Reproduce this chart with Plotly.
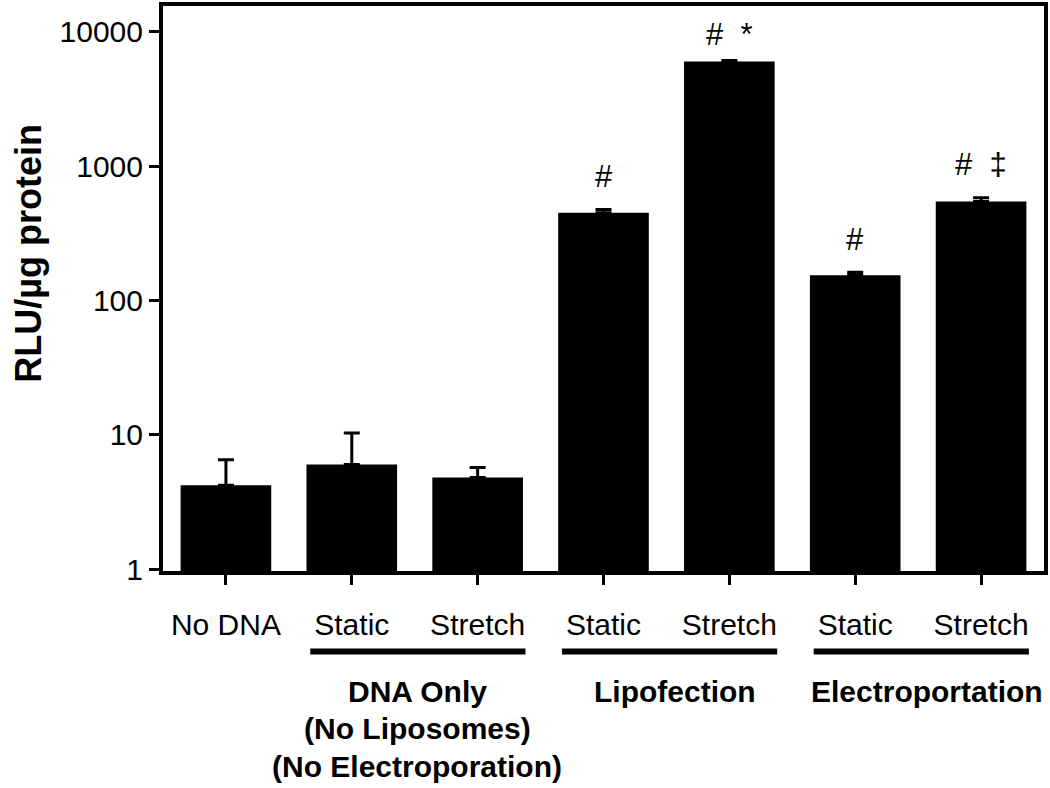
import plotly.graph_objects as go
import math

# ---- data ----
bar_labels = ["No DNA", "Static", "Stretch", "Static", "Stretch", "Static", "Stretch"]
means = [4.2, 6.0, 4.8, 450, 6000, 154, 545]
errors = [2.3, 4.3, 0.9, 25, 110, 8, 37]
sig_marks = ["", "", "", "#", "#\u00a0\u00a0*", "#", "#\u00a0\u00a0\u2021"]
groups = ["DNA Only", "Lipofection", "Electroportation"]
group_members = [(1, 2), (3, 4), (5, 6)]
group_sublines = [["(No Liposomes)", "(No Electroporation)"], [], []]
y_tickvals = [1, 10, 100, 1000, 10000]
y_ticktext = ["1", "10", "100", "1000", "10000"]
y_title = "RLU/µg protein"

FONT = "Arial, Liberation Sans, sans-serif"
x = list(range(len(bar_labels)))

fig = go.Figure()
fig.add_trace(go.Bar(
    x=x, y=means, width=0.72,
    marker=dict(color="black", line=dict(width=0)),
    error_y=dict(type="data", symmetric=False, array=errors,
                 arrayminus=[0] * len(errors), color="black",
                 thickness=3, width=8),
    showlegend=False, hoverinfo="skip",
))

# significance marks
for i, m in enumerate(sig_marks):
    if not m:
        continue
    top = means[i] + errors[i]
    fig.add_annotation(x=i, y=math.log10(top), xref="x", yref="y",
                       text=m, showarrow=False, yanchor="middle",
                       yshift=26 if i == 4 else 33,
                       font=dict(family=FONT, size=31, color="black"))

# geometry helpers (plot area in pixels)
plot_left, plot_right = 163, 1047
plot_top, plot_bot = 2, 571
ph = plot_bot - plot_top
pw = plot_right - plot_left
def py(pix):
    return (plot_bot - pix) / ph
def px(pix):
    return (pix - plot_left) / pw

label_offsets = [0.02, 0.07, 0.07]
for g, (a, b), subs, off in zip(groups, group_members, group_sublines, label_offsets):
    fig.add_shape(type="line", xref="x", yref="paper",
                  x0=a - 0.33, x1=b + 0.38, y0=py(652), y1=py(652),
                  line=dict(color="black", width=6))
    lines = [g] + subs
    for k, t in enumerate(lines):
        fig.add_annotation(x=(a + b) / 2 + off, y=py(692 + 38 * k),
                           xref="x", yref="paper", text="<b>%s</b>" % t,
                           showarrow=False, yanchor="middle",
                           font=dict(family=FONT, size=30, color="black"))

# y-axis title
fig.add_annotation(x=px(28), y=py(251), xref="paper", yref="paper",
                   text="<b>%s</b>" % y_title, textangle=-90, showarrow=False,
                   xanchor="center", yanchor="middle",
                   font=dict(family=FONT, size=36, color="black"))

fig.update_layout(
    width=1050, height=788,
    margin=dict(l=163, r=3, t=2, b=217),
    plot_bgcolor="white", paper_bgcolor="white",
    font=dict(family=FONT, color="black"),
    bargap=0.28,
)
fig.update_xaxes(
    range=[-0.5, 6.5], tickmode="array", tickvals=x, ticktext=bar_labels,
    tickfont=dict(size=30, family=FONT, color="black"),
    ticks="outside", ticklen=10, tickwidth=3, tickcolor="black",
    showline=True, linewidth=4, linecolor="black", mirror=True,
    showgrid=False, zeroline=False, ticklabelstandoff=14,
)
fig.update_yaxes(
    type="log", range=[-0.0148, 4.192],
    tickmode="array", tickvals=y_tickvals, ticktext=y_ticktext,
    tickfont=dict(size=30, family=FONT, color="black"),
    ticks="outside", ticklen=10, tickwidth=3, tickcolor="black",
    showline=True, linewidth=4, linecolor="black", mirror=True,
    showgrid=False, zeroline=False,
)

fig.write_html("out.html", config={"displayModeBar": False},
               post_script="document.body.style.margin='0';document.body.style.overflow='hidden';")
